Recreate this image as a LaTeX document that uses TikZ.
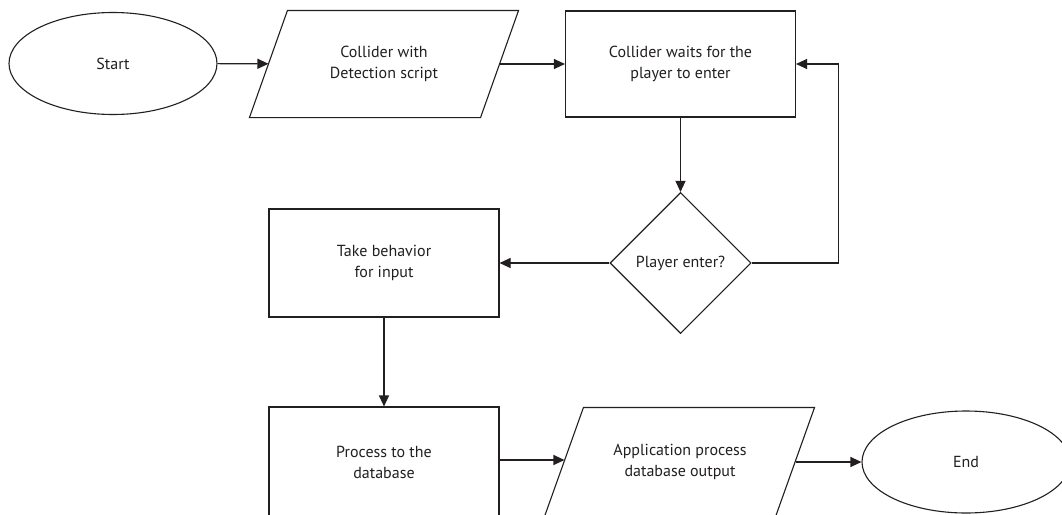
\documentclass[tikz,border=0pt]{standalone}
\usepackage{fontspec}
\setmainfont{PT Sans}
\usetikzlibrary{shapes.geometric,arrows.meta}
\definecolor{ink}{HTML}{231F20}
\begin{document}
\begin{tikzpicture}[x=1pt,y=-1pt,
  line/.style={draw=ink,line width=1.1pt},
  base/.style={line,text=ink,font=\fontsize{16}{21}\selectfont,align=center,inner sep=0pt},
  term/.style={base,ellipse,minimum width=208pt,minimum height=102pt},
  proc/.style={base,rectangle,minimum width=230pt,minimum height=106pt},
  io/.style={base,draw=none,rectangle,minimum width=230pt,minimum height=106pt},
  dec/.style={base,diamond,minimum width=141pt,minimum height=141pt},
  arr/.style={line,-{Triangle[length=11pt,width=10pt]}}
]
\useasboundingbox (0,0) rectangle (1062,514);
\clip (0,0) rectangle (1062,514);
\fill[white] (0,0) rectangle (1062,514);

\node[term] (start) at (113,63.5) {Start};
\node[io] (col) at (384,64) {Collider with\\Detection script};
\draw[line] ([xshift=19pt]col.north west) -- ([xshift=19pt]col.north east)
  -- ([xshift=-19pt]col.south east) -- ([xshift=-19pt]col.south west) -- cycle;
\node[proc] (wait) at (680.5,64) {Collider waits for the\\player to enter};
\node[dec] (dec) at (680.5,263) {Player enter?};
\node[proc,minimum height=108pt] (take) at (384,263) {Take behavior\\for input};
\node[proc,minimum height=110pt] (db) at (384,462) {Process to the\\database};
\node[io,minimum height=108pt] (app) at (680,462) {Application process\\database output};
\draw[line] ([xshift=19pt]app.north west) ++(-50,140) -- ++(50,-140)
  -- ([xshift=19pt]app.north east) -- ++(-50,140);
\node[term] (end) at (966,462) {End};

\draw[arr] (start) -- (col);
\draw[arr] (col) -- (wait);
\draw[arr] (wait) -- (dec);
\draw[arr] (dec.east) -- ++(87,0) |- (wait.east);
\draw[arr] (dec) -- (take);
\draw[arr] (take) -- (db);
\draw[arr] ([yshift=2pt]db.east) -- ([yshift=2pt]db.east -| app.west);
\draw[arr] (app) -- (end);
\end{tikzpicture}
\end{document}
